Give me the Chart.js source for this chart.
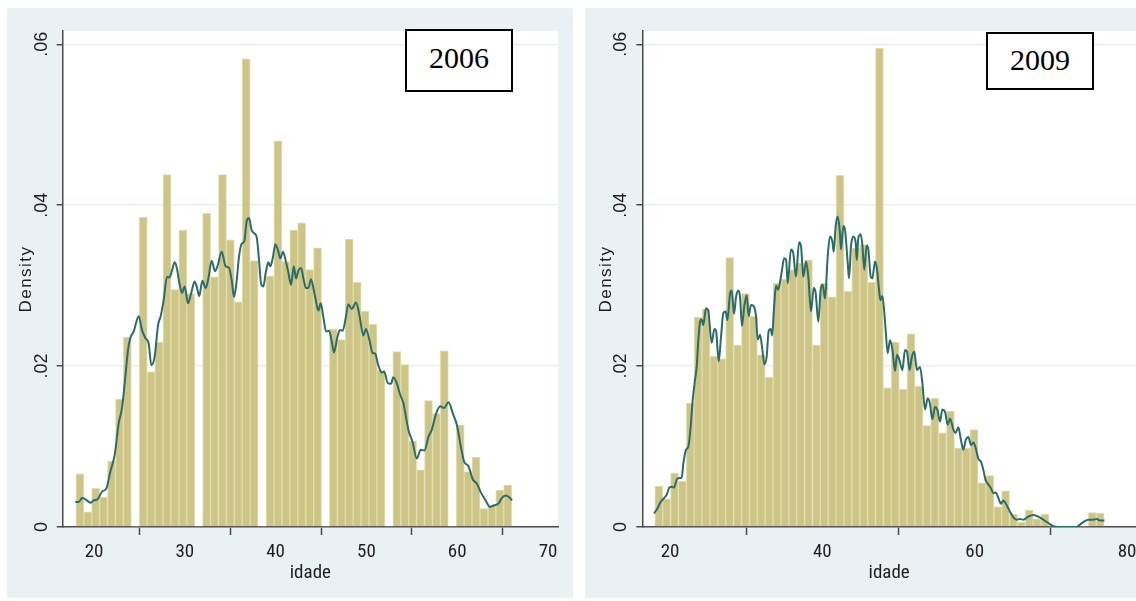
<!DOCTYPE html>
<html>
<head>
<meta charset="utf-8">
<title>idade — 2006 / 2009</title>
<script src="https://cdn.jsdelivr.net/npm/chart.js"></script>
<style>
  html, body { margin: 0; padding: 0; background: #ffffff; }
  body { width: 1136px; height: 601px; position: relative; overflow: hidden; }
  .panel { position: absolute; }
  .yearbox {
    position: absolute; box-sizing: border-box; background: #ffffff;
    border: 2px solid #000000; text-align: center;
    font-family: "Liberation Serif", "Times New Roman", serif; font-size: 30px;
    line-height: 34px; color: #000000;
  }
</style>
</head>
<body>
<div class="panel" style="left:7px; top:8px; width:566px; height:590px;">
  <canvas id="chart2006" width="566" height="590"></canvas>
</div>
<div class="panel" style="left:585px; top:8px; width:551px; height:590px;">
  <canvas id="chart2009" width="551" height="590"></canvas>
</div>
<div class="yearbox" style="left:405px; top:29px; width:108px; height:63px; padding-top:10px;">2006</div>
<div class="yearbox" style="left:986px; top:32px; width:108px; height:58px; padding-top:9px;">2009</div>

<script>
// ---------- 2006: histogram bins (bin centres, width 48/55 years) ----------
const bins2006 = [18.44, 19.31, 20.18, 21.05, 21.93, 22.80, 23.67, 24.55, 25.42, 26.29,
  27.16, 28.04, 28.91, 29.78, 30.65, 31.53, 32.40, 33.27, 34.15, 35.02,
  35.89, 36.76, 37.64, 38.51, 39.38, 40.25, 41.13, 42.00, 42.87, 43.75,
  44.62, 45.49, 46.36, 47.24, 48.11, 48.98, 49.85, 50.73, 51.60, 52.47,
  53.35, 54.22, 55.09, 55.96, 56.84, 57.71, 58.58, 59.45, 60.33, 61.20,
  62.07, 62.95, 63.82, 64.69, 65.56];
const density2006 = [0.0066, 0.0019, 0.0048, 0.0037, 0.0082, 0.0159, 0.0236, 0, 0.0385, 0.0193,
  0.0230, 0.0438, 0.0295, 0.0369, 0.0290, 0, 0.0390, 0.0311, 0.0438, 0.0357,
  0.0280, 0.0582, 0.0331, 0, 0.0312, 0.0480, 0.0330, 0.0369, 0.0378, 0.0320,
  0.0347, 0, 0.0246, 0.0233, 0.0358, 0.0304, 0.0268, 0.0252, 0.0195, 0,
  0.0218, 0.0202, 0.0107, 0.0071, 0.0157, 0.0141, 0.0219, 0, 0.0127, 0.0069,
  0.0087, 0.0023, 0.0027, 0.0046, 0.0052];

// 2006 kernel density estimate
const kdeAge2006 = [17.94, 18.3, 18.7, 19.1, 19.6, 19.96, 20.44, 20.88, 21.36, 21.8,
  22.28, 22.72, 23.08, 23.45, 23.74, 24.0, 24.37, 24.92, 25.28, 25.65,
  26.02, 26.31, 26.68, 27.05, 27.34, 27.67, 28.04, 28.3, 28.59, 28.88,
  29.14, 29.4, 29.69, 29.98, 30.35, 30.71, 31.08, 31.33, 31.59, 31.93,
  32.3, 32.59, 32.96, 33.33, 33.62, 34.06, 34.5, 34.87, 35.16, 35.42,
  35.68, 35.97, 36.26, 36.55, 36.81, 37.07, 37.36, 37.66, 37.92, 38.17,
  38.39, 38.65, 38.91, 39.2, 39.42, 39.68, 39.97, 40.23, 40.52, 40.82,
  41.11, 41.41, 41.7, 42.0, 42.25, 42.51, 42.8, 43.06, 43.35, 43.61,
  43.9, 44.16, 44.42, 44.71, 44.97, 45.27, 45.56, 45.89, 46.19, 46.43,
  46.8, 47.09, 47.39, 47.75, 48.01, 48.38, 48.85, 49.22, 49.66, 49.95,
  50.32, 50.69, 50.94, 51.31, 51.68, 51.97, 52.34, 52.71, 52.96, 53.33,
  53.7, 54.07, 54.62, 55.1, 55.54, 55.98, 56.39, 56.83, 57.2, 57.68,
  58.12, 58.56, 59.04, 59.52, 59.96, 60.4, 60.77, 61.21, 61.72, 62.16,
  62.6, 63.08, 63.63, 64.07, 64.54, 64.91, 65.35, 65.82, 66.04];
const kdeDensity2006 = [0.0031, 0.0031, 0.0036, 0.0034, 0.0030, 0.0033, 0.0035, 0.0044, 0.0048, 0.0069,
  0.0090, 0.0129, 0.0148, 0.0187, 0.0220, 0.0235, 0.0243, 0.0262, 0.0245, 0.0235,
  0.0228, 0.0201, 0.0212, 0.0251, 0.0262, 0.0282, 0.0311, 0.0310, 0.0319, 0.0329,
  0.0321, 0.0303, 0.0291, 0.0299, 0.0278, 0.0291, 0.0305, 0.0298, 0.0287, 0.0306,
  0.0297, 0.0309, 0.0331, 0.0318, 0.0325, 0.0342, 0.0324, 0.0322, 0.0307, 0.0286,
  0.0303, 0.0336, 0.0352, 0.0355, 0.0380, 0.0384, 0.0369, 0.0365, 0.0360, 0.0332,
  0.0303, 0.0299, 0.0316, 0.0329, 0.0324, 0.0334, 0.0351, 0.0345, 0.0334, 0.0342,
  0.0331, 0.0316, 0.0301, 0.0324, 0.0309, 0.0319, 0.0322, 0.0309, 0.0297, 0.0297,
  0.0308, 0.0297, 0.0282, 0.0269, 0.0278, 0.0260, 0.0243, 0.0244, 0.0230, 0.0217,
  0.0236, 0.0245, 0.0244, 0.0262, 0.0277, 0.0271, 0.0279, 0.0264, 0.0238, 0.0246,
  0.0233, 0.0216, 0.0216, 0.0201, 0.0192, 0.0193, 0.0179, 0.0178, 0.0186, 0.0179,
  0.0165, 0.0154, 0.0121, 0.0105, 0.0085, 0.0096, 0.0095, 0.0112, 0.0121, 0.0141,
  0.0150, 0.0148, 0.0155, 0.0141, 0.0127, 0.0100, 0.0081, 0.0076, 0.0059, 0.0054,
  0.0043, 0.0034, 0.0025, 0.0027, 0.0029, 0.0036, 0.0039, 0.0036, 0.0033];

// ---------- 2009: histogram bins (bin centres, width 59/57 years) ----------
const bins2009 = [18.52, 19.55, 20.59, 21.62, 22.66, 23.69, 24.73, 25.76, 26.80, 27.83,
  28.87, 29.90, 30.94, 31.97, 33.01, 34.04, 35.08, 36.11, 37.15, 38.18,
  39.22, 40.25, 41.29, 42.32, 43.36, 44.39, 45.43, 46.46, 47.50, 48.54,
  49.57, 50.61, 51.64, 52.68, 53.71, 54.75, 55.78, 56.82, 57.85, 58.89,
  59.92, 60.96, 61.99, 63.03, 64.06, 65.10, 66.13, 67.17, 68.20, 69.24,
  70.27, 71.31, 72.34, 73.38, 74.41, 75.45, 76.48];
const density2009 = [0.0051, 0.0035, 0.0067, 0.0057, 0.0154, 0.0261, 0.0271, 0.0212, 0.0209, 0.0335,
  0.0226, 0.0290, 0.0262, 0.0214, 0.0186, 0.0303, 0.0308, 0.0320, 0.0328, 0.0332,
  0.0226, 0.0303, 0.0286, 0.0437, 0.0293, 0.0347, 0.0351, 0.0304, 0.0595, 0.0173,
  0.0230, 0.0171, 0.0240, 0.0175, 0.0126, 0.0160, 0.0117, 0.0144, 0.0098, 0.0098,
  0.0121, 0.0055, 0.0064, 0.0025, 0.0045, 0.0016, 0.0006, 0.0021, 0.0010, 0.0016,
  0, 0, 0, 0, 0, 0.0018, 0.0017];

// 2009 kernel density estimate
const kdeAge2009 = [17.9, 18.34, 18.77, 19.21, 19.56, 19.91, 20.26, 20.53, 20.88, 21.23,
  21.53, 21.75, 22.1, 22.41, 22.71, 22.98, 23.28, 23.5, 23.72, 23.94,
  24.15, 24.37, 24.72, 25.03, 25.47, 25.82, 26.04, 26.39, 26.7, 27.0,
  27.31, 27.53, 27.88, 28.1, 28.4, 28.67, 28.97, 29.19, 29.45, 29.76,
  30.07, 30.33, 30.63, 30.94, 31.29, 31.51, 31.82, 32.08, 32.39, 32.69,
  32.96, 33.22, 33.4, 33.66, 33.92, 34.19, 34.45, 34.71, 34.98, 35.24,
  35.45, 35.88, 36.19, 36.54, 36.94, 37.2, 37.5, 37.86, 38.16, 38.51,
  38.87, 39.12, 39.47, 39.78, 40.04, 40.35, 40.7, 41.0, 41.31, 41.49,
  41.75, 42.01, 42.28, 42.45, 42.76, 42.98, 43.33, 43.5, 43.76, 44.07,
  44.38, 44.51, 44.72, 45.03, 45.25, 45.51, 45.82, 46.04, 46.35, 46.57,
  46.91, 47.18, 47.44, 47.61, 47.88, 48.14, 48.31, 48.58, 48.88, 49.19,
  49.54, 49.8, 50.11, 50.5, 50.85, 51.11, 51.46, 51.72, 52.07, 52.42,
  52.82, 53.13, 53.48, 53.83, 54.13, 54.44, 54.79, 55.1, 55.45, 55.75,
  56.11, 56.46, 56.76, 57.2, 57.5, 57.85, 58.2, 58.51, 58.82, 59.17,
  59.52, 59.82, 60.13, 60.48, 60.83, 61.14, 61.44, 61.79, 62.14, 62.45,
  62.76, 63.11, 63.46, 63.76, 64.2, 64.64, 65.08, 65.52, 65.95, 66.39,
  67.05, 67.7, 68.36, 69.02, 69.67, 70.33, 70.98, 72.3, 73.39, 73.83,
  74.4, 74.92, 75.58, 76.02, 76.46, 77.03];
const kdeDensity2009 = [0.0017, 0.0023, 0.0031, 0.0036, 0.0040, 0.0049, 0.0050, 0.0049, 0.0059, 0.0061,
  0.0061, 0.0079, 0.0096, 0.0100, 0.0125, 0.0158, 0.0183, 0.0199, 0.0233, 0.0255,
  0.0258, 0.0251, 0.0272, 0.0268, 0.0229, 0.0246, 0.0244, 0.0206, 0.0237, 0.0266,
  0.0268, 0.0257, 0.0290, 0.0294, 0.0265, 0.0286, 0.0294, 0.0286, 0.0250, 0.0275,
  0.0288, 0.0262, 0.0276, 0.0275, 0.0262, 0.0233, 0.0239, 0.0224, 0.0202, 0.0212,
  0.0244, 0.0246, 0.0238, 0.0273, 0.0300, 0.0295, 0.0305, 0.0320, 0.0334, 0.0332,
  0.0303, 0.0345, 0.0340, 0.0311, 0.0354, 0.0349, 0.0311, 0.0330, 0.0311, 0.0268,
  0.0297, 0.0291, 0.0255, 0.0295, 0.0301, 0.0284, 0.0336, 0.0361, 0.0355, 0.0342,
  0.0374, 0.0386, 0.0369, 0.0345, 0.0374, 0.0369, 0.0328, 0.0309, 0.0349, 0.0361,
  0.0353, 0.0332, 0.0359, 0.0364, 0.0351, 0.0320, 0.0350, 0.0345, 0.0311, 0.0309,
  0.0330, 0.0320, 0.0295, 0.0282, 0.0287, 0.0266, 0.0245, 0.0216, 0.0232, 0.0221,
  0.0194, 0.0214, 0.0208, 0.0195, 0.0220, 0.0218, 0.0195, 0.0210, 0.0218, 0.0195,
  0.0199, 0.0179, 0.0146, 0.0160, 0.0153, 0.0134, 0.0149, 0.0146, 0.0131, 0.0146,
  0.0143, 0.0127, 0.0135, 0.0121, 0.0117, 0.0124, 0.0108, 0.0096, 0.0108, 0.0112,
  0.0102, 0.0105, 0.0098, 0.0085, 0.0081, 0.0071, 0.0058, 0.0053, 0.0048, 0.0042,
  0.0043, 0.0036, 0.0029, 0.0033, 0.0027, 0.0019, 0.0012, 0.0009, 0.0010, 0.0009,
  0.0013, 0.0015, 0.0013, 0.0009, 0.0005, 0.0001, 0, 0, 0, 0.0003,
  0.0007, 0.0009, 0.0009, 0.0010, 0.0008, 0.0008];

// Axis labels
const xTitle = 'idade';
const yTitle = 'Density';
const yTickValues = [0, 0.02, 0.04, 0.06];

// ---------- styling ----------
const PANEL_BG = '#eaf1f3';
const BAR_FILL = '#cdc585';
const BAR_EDGE = '#e2dcae';
const KDE_LINE = '#2a6d68';
const AXIS = '#4a4a4a';
const GRID = '#e7eff2';
const TEXT = '#1e1e1e';
const NARROW = '"Liberation Sans Narrow", "Arial Narrow", "Roboto Condensed", "DejaVu Sans Condensed", sans-serif';
const REGULAR = '"Liberation Sans", Arial, sans-serif';

function densityLabel(v) {
  if (Math.abs(v) < 1e-9) return '0';
  return v.toFixed(2).replace(/^0/, '');
}

// white plot region on the light panel
const panelBackground = {
  id: 'panelBackground',
  beforeDraw(chart) {
    const { ctx, chartArea: a, width, height } = chart;
    ctx.save();
    ctx.fillStyle = PANEL_BG;
    ctx.fillRect(0, 0, width, height);
    ctx.fillStyle = '#ffffff';
    ctx.fillRect(a.left, a.top, a.right - a.left, a.bottom - a.top);
    ctx.restore();
  }
};

// rotated y tick labels and y title, placed from the y scale
const verticalAxisText = {
  id: 'verticalAxisText',
  afterDraw(chart) {
    const { ctx, chartArea: a } = chart;
    const ys = chart.scales.y;
    ctx.save();
    ctx.fillStyle = TEXT;
    ctx.textAlign = 'center';
    ctx.textBaseline = 'middle';
    ctx.font = '18px ' + REGULAR;
    ys.ticks.forEach(t => {
      const py = ys.getPixelForValue(t.value);
      ctx.save();
      ctx.translate(a.left - 21, py);
      ctx.rotate(-Math.PI / 2);
      ctx.fillText(densityLabel(t.value), 0, 0);
      ctx.restore();
    });
    ctx.font = '17px ' + REGULAR;
    if ('letterSpacing' in ctx) ctx.letterSpacing = '1.5px';
    ctx.translate(a.left - 36, (a.top + a.bottom) / 2);
    ctx.rotate(-Math.PI / 2);
    ctx.fillText(yTitle, 0, 0);
    ctx.restore();
  }
};

function buildHistogram(canvasId, bins, dens, kdeX, kdeY, xMin, xMax, xStep, yAxisWidth, padRight) {
  const bars = bins.map((b, i) => ({ x: b, y: dens[i] }));
  const curve = kdeX.map((a, i) => ({ x: a, y: kdeY[i] }));
  return new Chart(document.getElementById(canvasId), {
    data: {
      datasets: [
        {
          type: 'line',
          data: curve,
          borderColor: KDE_LINE,
          borderWidth: 2,
          pointRadius: 0,
          cubicInterpolationMode: 'monotone',
          fill: false,
          order: 0
        },
        {
          type: 'bar',
          data: bars,
          backgroundColor: BAR_FILL,
          borderColor: BAR_EDGE,
          borderWidth: c => (c.raw && c.raw.y > 0 ? 1 : 0),
          borderSkipped: 'start',
          barPercentage: 1,
          categoryPercentage: 1,
          order: 1
        }
      ]
    },
    options: {
      responsive: false,
      animation: false,
      layout: { padding: { top: 23, right: padRight, bottom: 0, left: 0 } },
      plugins: { legend: { display: false }, tooltip: { enabled: false } },
      scales: {
        x: {
          type: 'linear',
          min: xMin,
          max: xMax,
          offset: false,
          afterFit(s) { s.height = 71; s.paddingLeft = 0; s.paddingRight = 0; },
          border: { display: true, color: AXIS, width: 1.5 },
          grid: { drawOnChartArea: false, drawTicks: true, tickLength: 8, tickColor: AXIS, tickWidth: 1.5 },
          ticks: {
            stepSize: xStep,
            includeBounds: false,
            autoSkip: false,
            maxRotation: 0,
            padding: 6,
            color: TEXT,
            font: { family: NARROW, size: 19 },
            callback: v => String(v)
          },
          title: {
            display: true,
            text: xTitle,
            color: TEXT,
            font: { family: NARROW, size: 19 },
            padding: { top: 0, bottom: 13 }
          }
        },
        y: {
          type: 'linear',
          min: 0,
          max: 0.06165,
          afterBuildTicks(s) { s.ticks = yTickValues.map(v => ({ value: v })); },
          afterFit(s) { s.width = yAxisWidth; s.paddingTop = 0; s.paddingBottom = 0; },
          border: { display: true, color: AXIS, width: 1.5 },
          grid: { color: GRID, lineWidth: 1.5, drawTicks: true, tickLength: 6, tickColor: AXIS, tickWidth: 1.5 },
          ticks: { display: false }
        }
      }
    },
    plugins: [panelBackground, verticalAxisText]
  });
}

buildHistogram('chart2006', bins2006, density2006, kdeAge2006, kdeDensity2006, 16.55, 71.1, 10, 55.7, 15);
buildHistogram('chart2009', bins2009, density2009, kdeAge2009, kdeDensity2009, 16.36, 81.18, 20, 57.3, 0);
</script>
</body>
</html>
